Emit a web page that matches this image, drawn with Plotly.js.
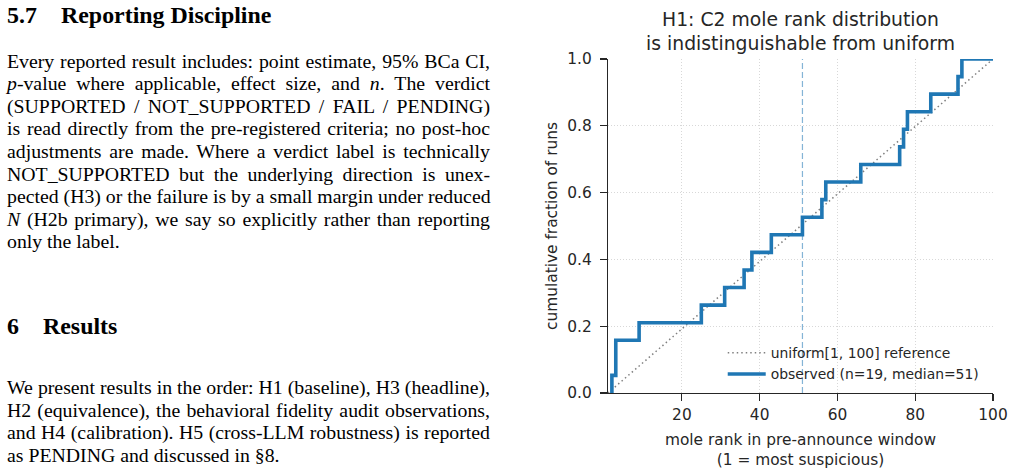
<!DOCTYPE html>
<html>
<head>
<meta charset="utf-8">
<script src="https://cdn.plot.ly/plotly-3.0.1.min.js"></script>
<style>
  html, body { margin: 0; padding: 0; background: #fff; }
  body { width: 1013px; height: 474px; position: relative; overflow: hidden; }
  .txt { position: absolute; left: 7px; width: 483px; font-family: "Liberation Serif", "Times New Roman", serif; color: #000; }
  .h { font-weight: bold; font-size: 23.9px; line-height: 26px; white-space: nowrap; }
  .h .num { display: inline-block; }
  .p { font-size: 19.8px; line-height: 22.56px; }
  .p .l { display: block; white-space: nowrap; text-align: justify; text-align-last: justify; }
  .p .l.last { text-align: left; text-align-last: left; }
  #chart { position: absolute; left: 500px; top: 0; width: 513px; height: 474px; }
</style>
</head>
<body>
<div class="txt h" style="top:1.6px;"><span class="num" style="width:54px;">5.7</span>Reporting Discipline</div>
<div class="txt p" style="top:49.7px;">
  <span class="l">Every reported result includes: point estimate, 95% BCa CI,</span>
  <span class="l"><i>p</i>-value where applicable, effect size, and <i>n</i>. The verdict</span>
  <span class="l">(SUPPORTED / NOT_SUPPORTED / FAIL / PENDING)</span>
  <span class="l">is read directly from the pre-registered criteria; no post-hoc</span>
  <span class="l">adjustments are made. Where a verdict label is technically</span>
  <span class="l">NOT_SUPPORTED but the underlying direction is unex-</span>
  <span class="l">pected (H3) or the failure is by a small margin under reduced</span>
  <span class="l"><i>N</i> (H2b primary), we say so explicitly rather than reporting</span>
  <span class="l last">only the label.</span>
</div>
<div class="txt h" style="top:313.2px;"><span class="num" style="width:36px;">6</span>Results</div>
<div class="txt p" style="top:376px;">
  <span class="l">We present results in the order: H1 (baseline), H3 (headline),</span>
  <span class="l">H2 (equivalence), the behavioral fidelity audit observations,</span>
  <span class="l">and H4 (calibration). H5 (cross-LLM robustness) is reported</span>
  <span class="l last">as PENDING and discussed in §8.</span>
</div>
<div id="chart"></div>
<script>
// ---- data ----
const moleRanks = [2, 3, 3, 9, 25, 31, 36, 38, 43, 51, 56, 57, 66, 76, 77, 78, 84, 91, 92];
const rankRange = [1, 100];
const xTickVals = [20, 40, 60, 80, 100];
const yTickVals = [0, 0.2, 0.4, 0.6, 0.8, 1.0];
const titleText = 'H1: C2 mole rank distribution<br>is indistinguishable from uniform';
const xTitle = 'mole rank in pre-announce window<br>(1 = most suspicious)';
const yTitle = 'cumulative fraction of runs';
const refName = 'uniform[1, 100] reference';

// ---- derived ----
const n = moleRanks.length;
const sorted = moleRanks.slice().sort((a, b) => a - b);
const median = sorted[Math.floor(n / 2)];
const stepX = [sorted[0]], stepY = [0];
sorted.forEach((r, i) => { stepX.push(r); stepY.push((i + 1) / n); });
stepX.push(rankRange[1]); stepY.push(1);

const font = 'DejaVu Sans, Verdana, sans-serif';
const ink = '#262626';

const traces = [
  {
    x: rankRange, y: [0, 1], mode: 'lines', name: refName,
    line: {color: '#808080', width: 1.5, dash: '1.5px,3px'}, hoverinfo: 'skip'
  },
  {
    x: stepX, y: stepY, mode: 'lines', name: 'observed (n=' + n + ', median=' + median + ')',
    line: {color: '#1f77b4', width: 3.6, shape: 'hv'}, hoverinfo: 'skip'
  }
];

const layout = {
  width: 513, height: 474,
  margin: {l: 108, r: 20, t: 59, b: 81, pad: 0},
  paper_bgcolor: '#fff', plot_bgcolor: '#fff',
  font: {family: font, size: 15.4, color: ink},
  title: {text: titleText, font: {family: font, size: 18.8, color: ink},
          x: 0.5, xref: 'paper', xanchor: 'center', y: 0.946, yref: 'container', yanchor: 'top'},
  xaxis: {
    range: rankRange, tickvals: xTickVals, ticks: 'outside', ticklen: 7, tickwidth: 1.2, tickcolor: ink,
    showline: true, linecolor: ink, linewidth: 1.2, zeroline: false,
    showgrid: true, gridcolor: '#d8d8d8', griddash: '1px,2px', gridwidth: 1,
    tickfont: {size: 15.4, color: ink},
    title: {text: xTitle, font: {size: 15.4, color: ink}, standoff: 11}
  },
  yaxis: {
    range: [0, 1], tickvals: yTickVals, tickformat: '.1f', ticks: 'outside', ticklen: 7, tickwidth: 1.2, tickcolor: ink,
    ticklabelstandoff: 5,
    showline: true, linecolor: ink, linewidth: 1.2, zeroline: false,
    showgrid: true, gridcolor: '#d8d8d8', griddash: '1px,2px', gridwidth: 1,
    tickfont: {size: 15.4, color: ink},
    title: {text: yTitle, font: {size: 15.4, color: ink}, standoff: 5}
  },
  shapes: [{
    type: 'line', xref: 'x', yref: 'paper', x0: median, x1: median, y0: 0, y1: 1,
    line: {color: 'rgba(31,119,180,0.55)', width: 1.2, dash: '6px,3px'}, layer: 'above'
  }],
  showlegend: true,
  legend: {x: 0.298, y: 0.008, xanchor: 'left', yanchor: 'bottom', bgcolor: 'rgba(0,0,0,0)',
           font: {size: 13.9, color: ink}, borderwidth: 0, itemwidth: 38}
};

Plotly.newPlot('chart', traces, layout, {staticPlot: true, displayModeBar: false});
</script>
</body>
</html>
